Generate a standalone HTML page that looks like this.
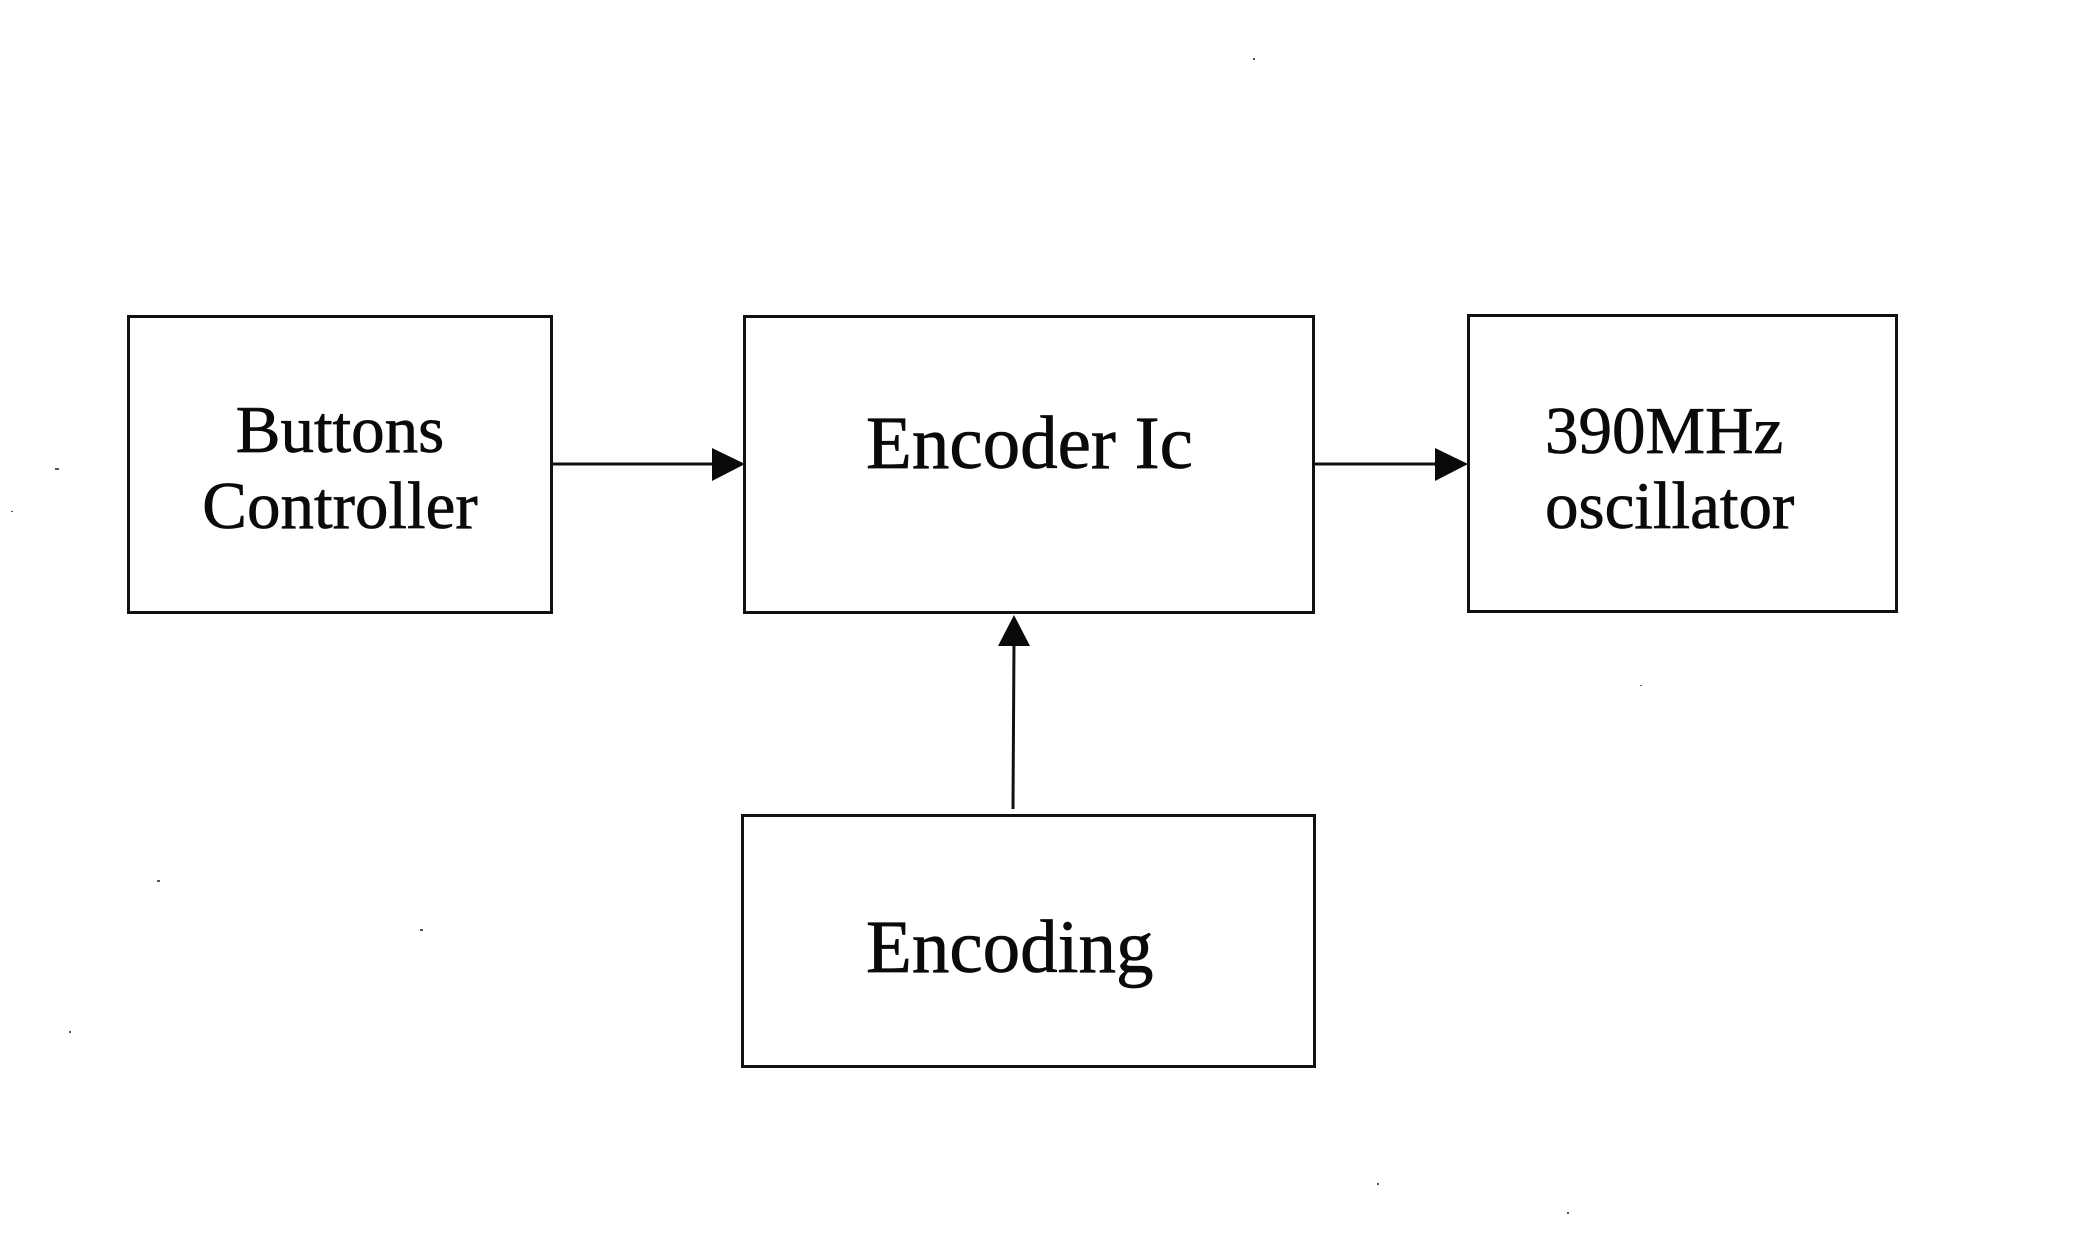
<!DOCTYPE html>
<html>
<head>
<meta charset="utf-8">
<style>
  html, body { margin: 0; padding: 0; background: #ffffff; }
  body { width: 2080px; height: 1252px; overflow: hidden; }
  svg { display: block; }
  text { font-family: "Liberation Serif", "Times New Roman", serif; fill: #0a0a0a; stroke: #0a0a0a; stroke-width: 0.7px; }
</style>
</head>
<body>
<svg width="2080" height="1252" viewBox="0 0 2080 1252" xmlns="http://www.w3.org/2000/svg">
  <rect x="0" y="0" width="2080" height="1252" fill="#ffffff"/>

  <!-- Boxes -->
  <g fill="none" stroke="#111" stroke-width="3">
    <rect x="128.5" y="316.5" width="423" height="296"/>
    <rect x="744.5" y="316.5" width="569" height="296"/>
    <rect x="1468.5" y="315.5" width="428" height="296"/>
    <rect x="742.5" y="815.5" width="572" height="251"/>
  </g>

  <!-- Connectors -->
  <g stroke="#111" stroke-width="3" fill="none">
    <line x1="553" y1="464" x2="715" y2="464"/>
    <line x1="1315" y1="464" x2="1438" y2="464"/>
    <line x1="1013" y1="809" x2="1014" y2="640"/>
  </g>
  <g fill="#0a0a0a" stroke="none">
    <polygon points="712,448 745,464 712,481"/>
    <polygon points="1435,448 1468,464 1435,481"/>
    <polygon points="998,646 1014,615 1030,646"/>
  </g>

  <!-- Labels -->
  <text x="340" y="452" font-size="67" text-anchor="middle">Buttons</text>
  <text x="340" y="528" font-size="67" text-anchor="middle">Controller</text>

  <text x="866" y="468" font-size="75">Encoder Ic</text>

  <text x="1545" y="453" font-size="67">390MHz</text>
  <text x="1545" y="528" font-size="67">oscillator</text>

  <text x="866" y="972" font-size="75">Encoding</text>

  <!-- scan speckles -->
  <g fill="#555">
    <rect x="55" y="468" width="4" height="2"/>
    <rect x="1253" y="58" width="2" height="2"/>
    <rect x="157" y="880" width="3" height="2"/>
    <rect x="420" y="929" width="3" height="2"/>
    <rect x="69" y="1031" width="2" height="2"/>
    <rect x="1377" y="1183" width="2" height="2"/>
    <rect x="1567" y="1212" width="2" height="2"/>
    <rect x="1640" y="685" width="2" height="1"/>
    <rect x="11" y="511" width="2" height="1"/>
  </g>
</svg>
</body>
</html>
